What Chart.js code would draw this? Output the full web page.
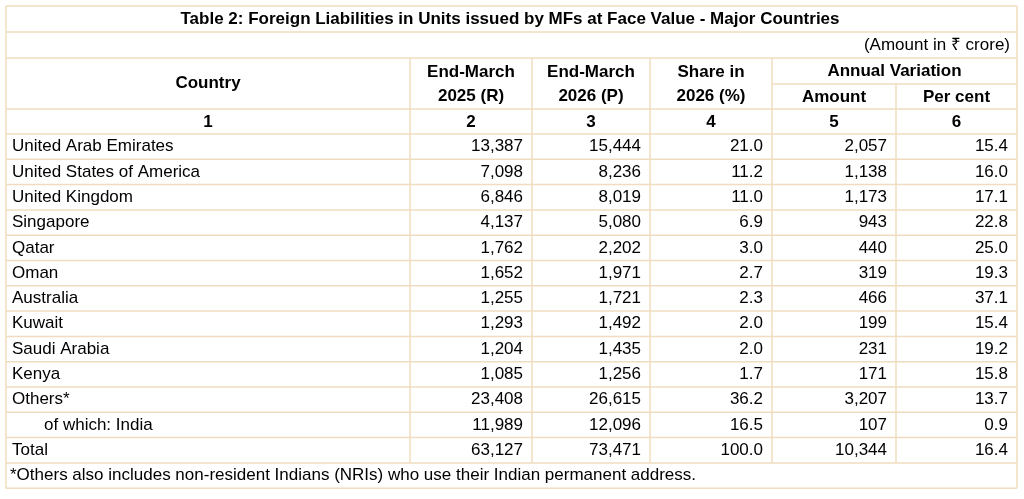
<!DOCTYPE html>
<html>
<head>
<meta charset="utf-8">
<script src="https://cdn.jsdelivr.net/npm/chart.js@4"></script>
<style>
  body { margin: 0; background: #fff; }
  #wrap { width: 1024px; height: 499px; }
</style>
</head>
<body>
<div id="wrap"><canvas id="chart"></canvas></div>
<script>
const title = "Table 2: Foreign Liabilities in Units issued by MFs at Face Value - Major Countries";
const unitNote = "(Amount in ₹ crore)";
const footnote = "*Others also includes non-resident Indians (NRIs) who use their Indian permanent address.";
const countries = ["United Arab Emirates", "United States of America", "United Kingdom", "Singapore", "Qatar", "Oman", "Australia", "Kuwait", "Saudi Arabia", "Kenya", "Others*", "of which: India", "Total"];
const end2025 = ["13,387", "7,098", "6,846", "4,137", "1,762", "1,652", "1,255", "1,293", "1,204", "1,085", "23,408", "11,989", "63,127"];
const end2026 = ["15,444", "8,236", "8,019", "5,080", "2,202", "1,971", "1,721", "1,492", "1,435", "1,256", "26,615", "12,096", "73,471"];
const share2026 = ["21.0", "11.2", "11.0", "6.9", "3.0", "2.7", "2.3", "2.0", "2.0", "1.7", "36.2", "16.5", "100.0"];
const variationAmount = ["2,057", "1,138", "1,173", "943", "440", "319", "466", "199", "231", "171", "3,207", "107", "10,344"];
const variationPercent = ["15.4", "16.0", "17.1", "22.8", "25.0", "19.3", "37.1", "15.4", "19.2", "15.8", "13.7", "0.9", "16.4"];
const colNumbers = ["1", "2", "3", "4", "5", "6"];

// layout grid in chart units (x 0..1024, y 0..499)
const colX = [6, 410, 532, 650, 772, 896, 1017];
const rowTop = 134, rowH = 25.3;
const lineColor = "#f0dcbf";
const font = '"Liberation Sans", Arial, sans-serif';

const tablePlugin = {
  id: "table",
  afterDraw(chart) {
    const { ctx } = chart;
    const X = v => chart.scales.x.getPixelForValue(v);
    const Y = v => chart.scales.y.getPixelForValue(v);
    const n = countries.length;
    const bottom = rowTop + rowH * (n + 1);
    ctx.save();
    ctx.strokeStyle = lineColor;
    ctx.lineWidth = 1.5;
    const hline = (y, x0, x1) => { ctx.beginPath(); ctx.moveTo(X(x0), Y(y)); ctx.lineTo(X(x1), Y(y)); ctx.stroke(); };
    const vline = (x, y0, y1) => { ctx.beginPath(); ctx.moveTo(X(x), Y(y0)); ctx.lineTo(X(x), Y(y1)); ctx.stroke(); };
    [6, 32, 58, 109].forEach(y => hline(y, colX[0], colX[6]));
    hline(84, colX[4], colX[6]);
    for (let i = 0; i <= n + 1; i++) hline(rowTop + rowH * i, colX[0], colX[6]);
    vline(colX[0], 6, bottom);
    vline(colX[6], 6, bottom);
    colX.slice(1, 6).forEach((x, i) => vline(x, i === 4 ? 84 : 58, rowTop + rowH * n));

    ctx.fillStyle = "#000";
    ctx.textBaseline = "middle";
    const text = (s, x, y, align, bold) => {
      ctx.font = (bold ? "bold " : "") + "17px " + font;
      ctx.textAlign = align;
      ctx.fillText(s, X(x), Y(y));
    };
    text(title, 510, 19, "center", true);
    text(unitNote, 1010, 45, "right", false);
    text("Country", (colX[0] + colX[1]) / 2, 83, "center", true);
    text("End-March", (colX[1] + colX[2]) / 2, 72, "center", true);
    text("2025 (R)", (colX[1] + colX[2]) / 2, 96, "center", true);
    text("End-March", (colX[2] + colX[3]) / 2, 72, "center", true);
    text("2026 (P)", (colX[2] + colX[3]) / 2, 96, "center", true);
    text("Share in", (colX[3] + colX[4]) / 2, 72, "center", true);
    text("2026 (%)", (colX[3] + colX[4]) / 2, 96, "center", true);
    text("Annual Variation", (colX[4] + colX[6]) / 2, 71, "center", true);
    text("Amount", (colX[4] + colX[5]) / 2, 97, "center", true);
    text("Per cent", (colX[5] + colX[6]) / 2, 97, "center", true);
    colNumbers.forEach((s, i) => text(s, (colX[i] + colX[i + 1]) / 2, 122, "center", true));
    const cols = [end2025, end2026, share2026, variationAmount, variationPercent];
    countries.forEach((c, r) => {
      const y = rowTop + rowH * (r + 0.5);
      text(c, c.startsWith("of which") ? 44 : 12, y, "left", false);
      cols.forEach((arr, j) => text(arr[r], colX[j + 2] - 9, y, "right", false));
    });
    text(footnote, 10, bottom - rowH / 2, "left", false);
    ctx.restore();
  }
};

new Chart(document.getElementById("chart"), {
  type: "scatter",
  data: { datasets: [{ data: [] }] },
  options: {
    responsive: true,
    maintainAspectRatio: false,
    animation: false,
    layout: { padding: 0 },
    plugins: { legend: { display: false }, tooltip: { enabled: false } },
    scales: {
      x: { type: "linear", min: 0, max: 1024, display: false },
      y: { type: "linear", min: 0, max: 499, reverse: true, display: false }
    }
  },
  plugins: [tablePlugin]
});
</script>
</body>
</html>
